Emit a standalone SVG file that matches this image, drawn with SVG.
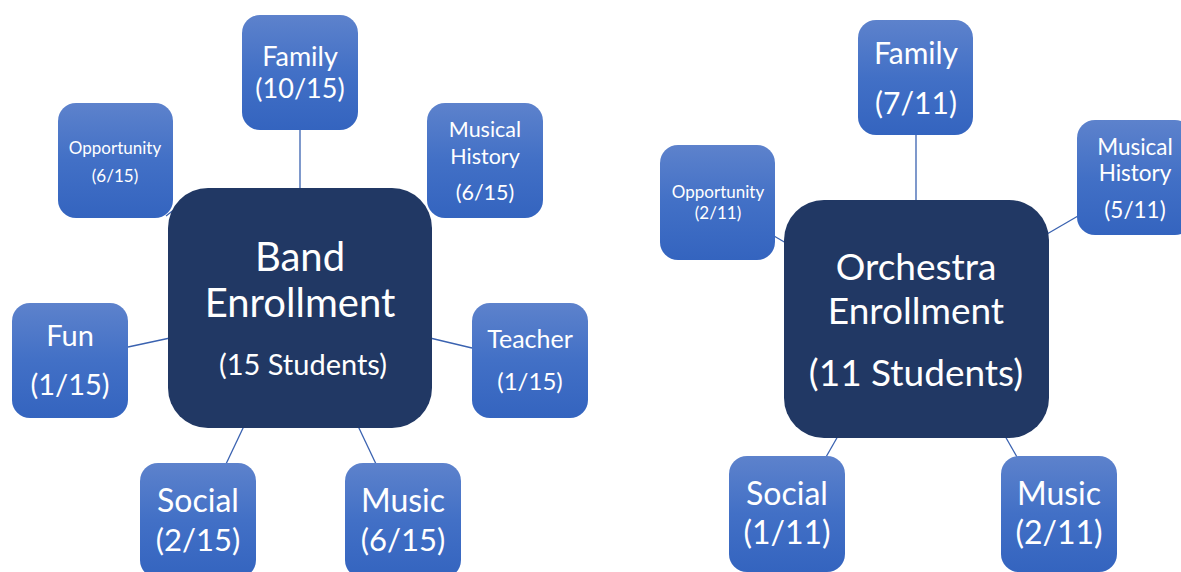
<svg xmlns="http://www.w3.org/2000/svg" width="1181" height="572" viewBox="0 0 1181 572">
<defs>
<linearGradient id="g" x1="0" y1="0" x2="0" y2="1">
<stop offset="0" stop-color="#5D82CC"/>
<stop offset="0.5" stop-color="#4270C6"/>
<stop offset="1" stop-color="#3464BF"/>
</linearGradient>
<style>
.leaf{fill:url(#g);}
.hub{fill:#213864;}
.t{font-family:Lato,"Open Sans",sans-serif;fill:#ffffff;text-anchor:middle;}
.c line{stroke:#3A62B0;stroke-width:1.3;}
</style>
</defs>
<rect width="1181" height="572" fill="#ffffff"/>
<g class="c">
<line x1="300" y1="130" x2="300" y2="190"/>
<line x1="166" y1="216" x2="180" y2="205"/>
<line x1="128" y1="347" x2="170" y2="338"/>
<line x1="430" y1="338" x2="472" y2="348"/>
<line x1="244" y1="426" x2="226" y2="464"/>
<line x1="358" y1="426" x2="376" y2="464"/>
<line x1="916" y1="135" x2="916" y2="202"/>
<line x1="774" y1="236" x2="786" y2="243"/>
<line x1="1078" y1="216" x2="1047" y2="234"/>
<line x1="838" y1="436" x2="826" y2="457"/>
<line x1="1005" y1="436" x2="1017" y2="457"/>
</g>
<g id="band-family"><rect class="leaf" x="242" y="15" width="116" height="115" rx="18"/>
<text class="t" x="300" y="66" font-size="27">Family</text><text class="t" x="300" y="98" font-size="27">(10/15)</text></g>
<g id="band-opportunity"><rect class="leaf" x="58" y="103" width="115" height="115" rx="18"/>
<text class="t" x="115" y="154" font-size="17">Opportunity</text><text class="t" x="115" y="182" font-size="17">(6/15)</text></g>
<g id="band-musical-history"><rect class="leaf" x="427" y="103" width="116" height="115" rx="18"/>
<text class="t" x="485" y="137" font-size="21.5">Musical</text><text class="t" x="485" y="164" font-size="21.5">History</text><text class="t" x="485" y="200" font-size="21.5">(6/15)</text></g>
<g id="band-center"><rect class="hub" x="168" y="188" width="264" height="240" rx="40"/>
<text class="t" x="300" y="271" font-size="40">Band</text><text class="t" x="300" y="317" font-size="40">Enrollment</text><text class="t" x="303" y="375" font-size="29">(15 Students)</text></g>
<g id="band-fun"><rect class="leaf" x="12" y="303" width="116" height="115" rx="18"/>
<text class="t" x="70" y="346" font-size="29">Fun</text><text class="t" x="70" y="395" font-size="29">(1/15)</text></g>
<g id="band-teacher"><rect class="leaf" x="472" y="303" width="116" height="115" rx="18"/>
<text class="t" x="530" y="348" font-size="25">Teacher</text><text class="t" x="530" y="390" font-size="24">(1/15)</text></g>
<g id="band-social"><rect class="leaf" x="140" y="463" width="116" height="115" rx="18"/>
<text class="t" x="198" y="512" font-size="32">Social</text><text class="t" x="198" y="551" font-size="31">(2/15)</text></g>
<g id="band-music"><rect class="leaf" x="345" y="463" width="116" height="115" rx="18"/>
<text class="t" x="403" y="512" font-size="32">Music</text><text class="t" x="403" y="551" font-size="31">(6/15)</text></g>
<g id="orch-family"><rect class="leaf" x="858" y="20" width="115" height="115" rx="18"/>
<text class="t" x="916" y="64" font-size="30">Family</text><text class="t" x="916" y="114" font-size="30">(7/11)</text></g>
<g id="orch-opportunity"><rect class="leaf" x="660" y="145" width="115" height="115" rx="18"/>
<text class="t" x="718" y="198" font-size="17">Opportunity</text><text class="t" x="718" y="219" font-size="17">(2/11)</text></g>
<g id="orch-musical-history"><rect class="leaf" x="1077" y="120" width="116" height="115" rx="18"/>
<text class="t" x="1135" y="155" font-size="22.5">Musical</text><text class="t" x="1135" y="181" font-size="22.5">History</text><text class="t" x="1135" y="218" font-size="22.5">(5/11)</text></g>
<g id="orch-center"><rect class="hub" x="784" y="200" width="265" height="238" rx="40"/>
<text class="t" x="916" y="280" font-size="37">Orchestra</text><text class="t" x="916" y="324" font-size="37">Enrollment</text><text class="t" x="916" y="386" font-size="37">(11 Students)</text></g>
<g id="orch-social"><rect class="leaf" x="729" y="456" width="116" height="116" rx="18"/>
<text class="t" x="787" y="505" font-size="32">Social</text><text class="t" x="787" y="544" font-size="32">(1/11)</text></g>
<g id="orch-music"><rect class="leaf" x="1001" y="456" width="116" height="116" rx="18"/>
<text class="t" x="1059" y="505" font-size="32">Music</text><text class="t" x="1059" y="544" font-size="32">(2/11)</text></g>
</svg>
